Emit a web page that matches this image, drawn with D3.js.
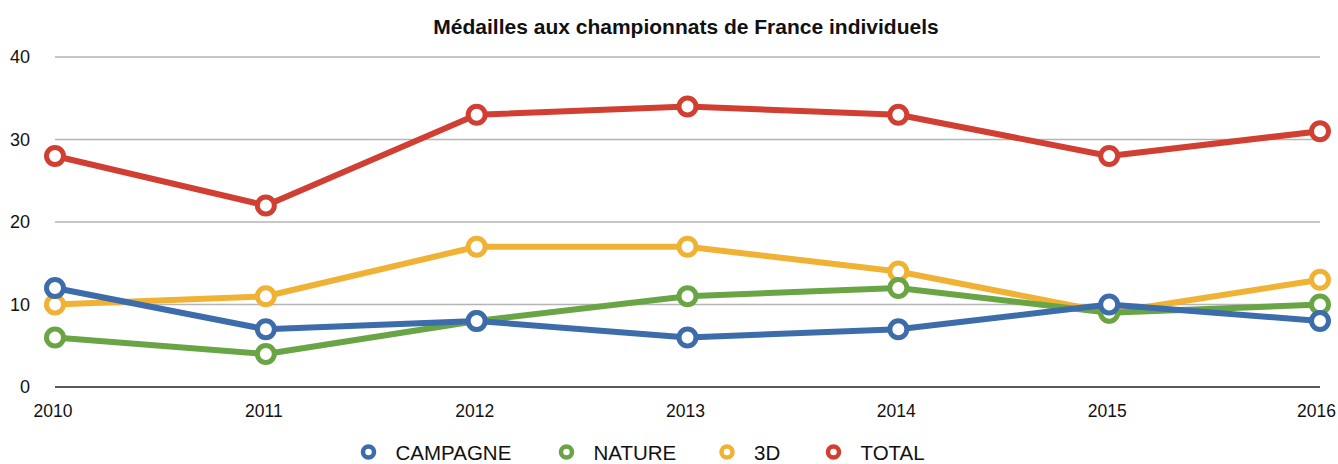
<!DOCTYPE html>
<html><head><meta charset="utf-8">
<script src="https://cdn.jsdelivr.net/npm/d3@7"></script>
<style>body{margin:0;background:#fff;}svg{display:block;font-family:"Liberation Sans",Arial,sans-serif;}</style>
</head><body>
<svg id="chart" width="1338" height="464"></svg>
<script>
const years = ["2010","2011","2012","2013","2014","2015","2016"];
const campagne = [12, 7, 8, 6, 7, 10, 8];
const nature = [6, 4, 8, 11, 12, 9, 10];
const troisD = [10, 11, 17, 17, 14, 9, 13];
const total = [28, 22, 33, 34, 33, 28, 31];
const yTicks = [0, 10, 20, 30, 40];
const seriesNames = ["CAMPAGNE", "NATURE", "3D", "TOTAL"];
const colors = ["#3c6ca9", "#6aa545", "#f0b234", "#d13f33"];

const series = [campagne, nature, troisD, total].map((v, i) => ({name: seriesNames[i], values: v, color: colors[i]}));

const svg = d3.select("#chart");
const x = d3.scalePoint().domain(years).range([55, 1320]);
const y = d3.scaleLinear().domain([0, 40]).range([387, 57]);

svg.append("text").attr("x", 686).attr("y", 34).attr("text-anchor", "middle")
  .attr("font-weight", "bold").attr("font-size", 21).attr("fill", "#111")
  .text("Médailles aux championnats de France individuels");

const g = svg.append("g");
g.selectAll("line.grid").data(yTicks).join("line")
  .attr("x1", 55).attr("x2", 1320)
  .attr("y1", d => y(d)).attr("y2", d => y(d))
  .attr("stroke", d => d === 0 ? "#222" : "#b5b5b5").attr("stroke-width", 1.5);

g.selectAll("text.ytick").data(yTicks).join("text")
  .attr("x", 30).attr("y", d => y(d) + 6).attr("text-anchor", "end")
  .attr("font-size", 18).attr("fill", "#111").text(d => d);

g.selectAll("text.xtick").data(years).join("text")
  .attr("x", (d, i) => i === years.length - 1 ? 1336 : x(d) - 2)
  .attr("y", 417)
  .attr("text-anchor", (d, i) => i === years.length - 1 ? "end" : "middle")
  .attr("font-size", 17.5).attr("fill", "#111").text(d => d);

const line = d3.line().x((d, i) => x(years[i])).y(d => y(d));

const drawOrder = [3, 2, 1, 0];
drawOrder.forEach(i => {
  const s = series[i];
  const sg = svg.append("g");
  sg.append("path").datum(s.values).attr("d", line).attr("fill", "none")
    .attr("stroke", s.color).attr("stroke-width", 6).attr("stroke-linejoin", "round");
  sg.selectAll("circle").data(s.values).join("circle")
    .attr("cx", (d, j) => x(years[j])).attr("cy", d => y(d)).attr("r", 8.5)
    .attr("fill", "#fff").attr("stroke", s.color).attr("stroke-width", 5);
});

const legendX = [368.5, 566.5, 727, 833.5];
const lg = svg.append("g");
series.forEach((s, i) => {
  lg.append("circle").attr("cx", legendX[i]).attr("cy", 452).attr("r", 5.5)
    .attr("fill", "#fff").attr("stroke", s.color).attr("stroke-width", 4.5);
  lg.append("text").attr("x", legendX[i] + 27).attr("y", 460)
    .attr("font-size", 20.5).attr("fill", "#111").text(s.name);
});
</script>
</body></html>
